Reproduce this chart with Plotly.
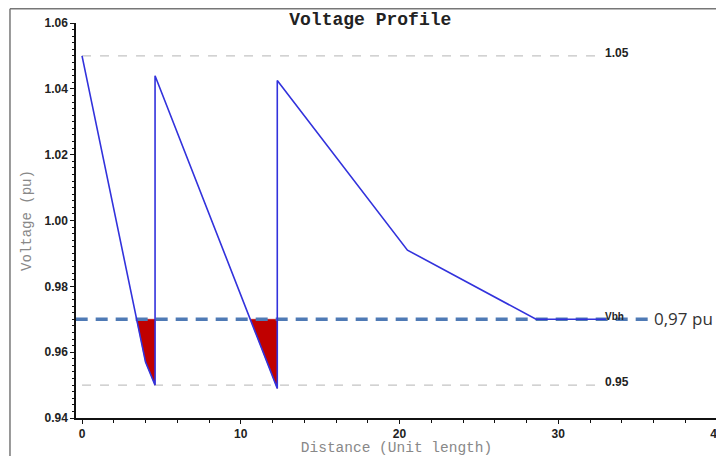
import plotly.graph_objects as go

# Voltage profile along feeder
distance = [0, 4.0, 4.6, 4.6, 12.3, 12.3, 20.5, 28.6, 33.0]
voltage = [1.05, 0.957, 0.950, 1.044, 0.949, 1.0425, 0.991, 0.970, 0.970]

# Under-voltage regions below 0.97 pu
deficit1_x = [3.44, 4.0, 4.6, 4.6, 3.44]
deficit1_y = [0.970, 0.957, 0.950, 0.970, 0.970]
deficit2_x = [10.6, 12.3, 12.3, 10.6]
deficit2_y = [0.970, 0.949, 0.970, 0.970]

upper_limit = 1.05
lower_limit = 0.95
vbh = 0.97
limit_x_end = 32.6
vbh_x_end = 35.7

x_ticks = [0, 10, 20, 30, 40]
y_ticks = [0.94, 0.96, 0.98, 1.00, 1.02, 1.04, 1.06]
y_tick_labels = ["0.94", "0.96", "0.98", "1.00", "1.02", "1.04", "1.06"]

fig = go.Figure()

# limit lines
fig.add_trace(go.Scatter(x=[0, limit_x_end], y=[upper_limit, upper_limit], mode="lines",
                         line=dict(color="#c4c4c4", width=1.3, dash="dash"), hoverinfo="skip"))
fig.add_trace(go.Scatter(x=[0, limit_x_end], y=[lower_limit, lower_limit], mode="lines",
                         line=dict(color="#c4c4c4", width=1.3, dash="dash"), hoverinfo="skip"))

# red deficit fills
for fx, fy in [(deficit1_x, deficit1_y), (deficit2_x, deficit2_y)]:
    fig.add_trace(go.Scatter(x=fx, y=fy, mode="lines", fill="toself",
                             fillcolor="#c00000", line=dict(color="#c00000", width=0.5),
                             hoverinfo="skip"))

# Vbh line
fig.add_trace(go.Scatter(x=[-0.4, vbh_x_end], y=[vbh, vbh], mode="lines",
                         line=dict(color="#4f7ab5", width=3.5, dash="12px,8px"), hoverinfo="skip"))

# profile
fig.add_trace(go.Scatter(x=distance, y=voltage, mode="lines",
                         line=dict(color="#3232dc", width=1.6)))

fig.add_annotation(x=limit_x_end, y=upper_limit, text="1.05", showarrow=False, xanchor="left",
                   yanchor="middle", xshift=3, yshift=3,
                   font=dict(family="Liberation Sans", size=12, color="#222", weight="bold"))
fig.add_annotation(x=limit_x_end, y=lower_limit, text="0.95", showarrow=False, xanchor="left",
                   yanchor="middle", xshift=3, yshift=3,
                   font=dict(family="Liberation Sans", size=12, color="#222", weight="bold"))
fig.add_annotation(x=limit_x_end, y=vbh, text="Vbh", showarrow=False, xanchor="left",
                   yanchor="middle", xshift=3, yshift=3,
                   font=dict(family="Liberation Sans", size=10, color="#222", weight="bold"))
fig.add_annotation(x=vbh_x_end, y=vbh, text="0,97 pu", showarrow=False, xanchor="left",
                   yanchor="middle", xshift=3, yshift=1,
                   font=dict(family="Open Sans", size=17, color="#333"))

# outer frame
fig.add_shape(type="line", xref="paper", yref="paper", x0=-0.103, x1=-0.103, y0=-0.2, y1=1.036,
              line=dict(color="#777", width=1.5))
fig.add_shape(type="line", xref="paper", yref="paper", x0=-0.103, x1=1.1, y0=1.036, y1=1.036,
              line=dict(color="#777", width=1.5))

fig.update_layout(
    width=716, height=448,
    margin=dict(l=68, r=7, t=15, b=38, autoexpand=False),
    paper_bgcolor="white", plot_bgcolor="white",
    showlegend=False,
    title=dict(text="Voltage Profile", x=0.506, xanchor="center", y=0.977, yanchor="middle",
               font=dict(family="Liberation Mono", size=18, color="#222", weight="bold")),
    xaxis=dict(range=[-0.38, 40], tickvals=x_ticks, ticktext=[str(v) for v in x_ticks],
               automargin=False,
               showgrid=False, zeroline=False, showline=True, linecolor="#111", linewidth=1.5,
               ticks="outside", ticklen=4, tickcolor="#111",
               minor=dict(dtick=2, ticks="outside", ticklen=3, tickcolor="#111"),
               tickfont=dict(family="Liberation Sans", size=12, color="#222", weight="bold"),
               title=dict(text="Distance (Unit length)", standoff=6,
                          font=dict(family="Liberation Mono", size=14.5, color="#888"))),
    yaxis=dict(range=[0.94, 1.06], tickvals=y_ticks, ticktext=y_tick_labels,
               automargin=False,
               showgrid=False, zeroline=False, showline=True, linecolor="#111", linewidth=1.5,
               ticks="outside", ticklen=4, tickcolor="#111",
               minor=dict(dtick=0.002, ticks="outside", ticklen=2, tickcolor="#111"),
               tickfont=dict(family="Liberation Sans", size=12, color="#222", weight="bold"),
               title=dict(text="Voltage (pu)", standoff=10,
                          font=dict(family="Liberation Mono", size=14, color="#888"))),
)

fig.write_html("out.html")
